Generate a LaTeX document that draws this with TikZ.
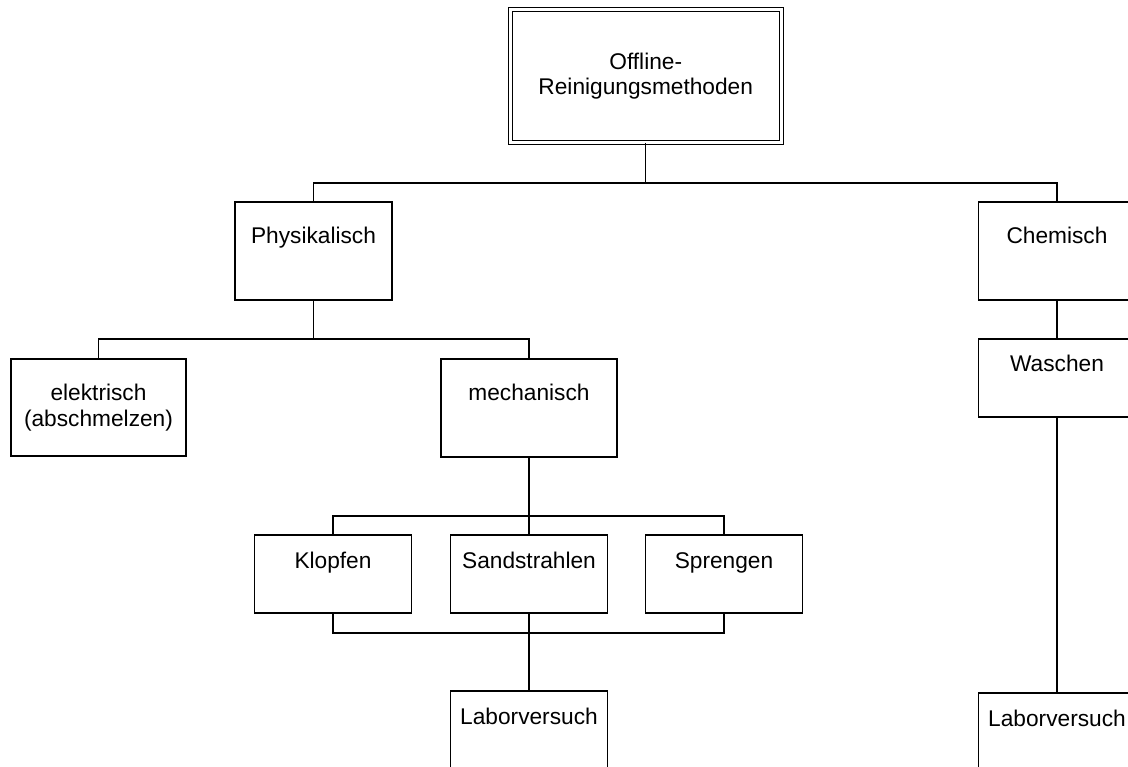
\documentclass[tikz,border=0pt]{standalone}
\usepackage{fontspec}
\setmainfont{Liberation Sans}
\tikzset{
  box/.style={draw, rectangle, line width=1.2pt, inner sep=0pt, minimum width=157pt,
    align=center, font=\fontsize{22.7}{25.5}\selectfont},
  tallbox/.style={box, minimum height=98pt, text height=16pt, text depth=30pt},
  flatbox/.style={box, minimum height=78pt, text height=16pt, text depth=28pt},
  link/.style={line width=1.2pt},
}
\begin{document}
\begin{tikzpicture}[x=1pt, y=-1pt]
\useasboundingbox (0,0) rectangle (1128,767);
\clip (0,0) rectangle (1128,767);

\node[box, double, double distance=2.6pt, minimum width=271pt, minimum height=133pt] (top) at (645.75,76) {Offline-\\Reinigungsmethoden};

\node[tallbox] (phys) at (313.5,251) {Physikalisch};
\node[tallbox] (chem) at (1057,251) {Chemisch};

\node[box, minimum width=175pt, minimum height=97pt] (elek) at (98.5,407.5) {elektrisch\\(abschmelzen)};
\node[tallbox, minimum width=176pt] (mech) at (529,408) {mechanisch};
\node[flatbox] (wasch) at (1057,378) {Waschen};

\node[flatbox] (klopf) at (333,574) {Klopfen};
\node[flatbox] (sand) at (529,574) {Sandstrahlen};
\node[flatbox] (spreng) at (724,574) {Sprengen};

\node[flatbox] (labor1) at (529,730) {Laborversuch};
\node[flatbox] (labor2) at (1057,732) {Laborversuch};

\coordinate (j1) at (645.75,183);
\coordinate (j2) at (313.5,339);
\coordinate (j3) at (529,516);
\coordinate (j4) at (529,633);

\draw[link] (top.south) -- (j1);
\draw[link] (phys.north) |- (j1) -| (chem.north);
\draw[link] (phys.south) -- (j2);
\draw[link] (elek.north) |- (j2) -| (mech.north);
\draw[link] (mech.south) -- (j3);
\draw[link] (klopf.north) |- (j3) -| (spreng.north);
\draw[link] (j3) -- (sand.north);
\draw[link] (klopf.south) |- (j4) -| (spreng.south);
\draw[link] (sand.south) -- (j4);
\draw[link] (j4) -- (labor1.north);
\draw[link] (chem.south) -- (wasch.north);
\draw[link] (wasch.south) -- (labor2.north);
\end{tikzpicture}
\end{document}
